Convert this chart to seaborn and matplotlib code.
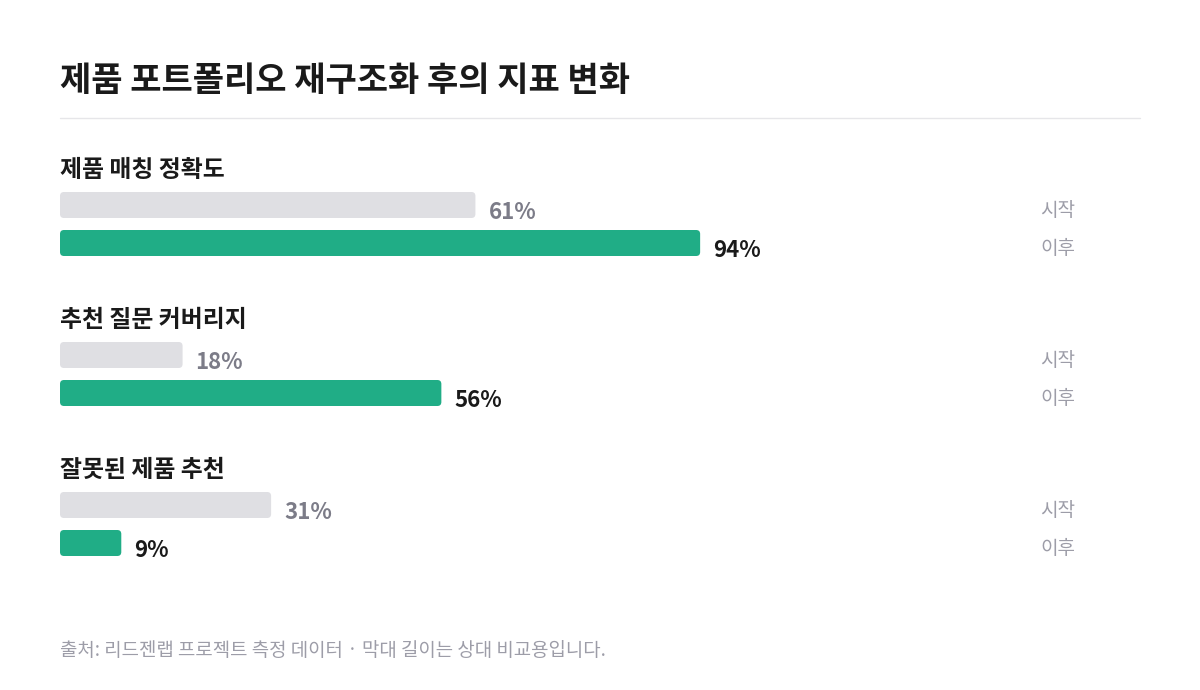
import matplotlib
matplotlib.use("Agg")
import matplotlib.pyplot as plt
import matplotlib.transforms as mtransforms
from matplotlib.patches import FancyBboxPatch
import seaborn as sns
import pandas as pd

# ---- data ----
title = "제품 포트폴리오 재구조화 후의 지표 변화"
metrics = ["제품 매칭 정확도", "추천 질문 커버리지", "잘못된 제품 추천"]
start_values = [61, 18, 31]
after_values = [94, 56, 9]
phases = ["시작", "이후"]
footer = "출처: 리드젠랩 프로젝트 측정 데이터 · 막대 길이는 상대 비교용입니다."

GREY = "#dfdfe3"
GREEN = "#20ad86"
DARK = "#1a1a1a"
MUTED = "#7c7c88"
LIGHT = "#9d9da8"

sns.set_theme(style="white")
plt.rcParams["font.family"] = ["Noto Sans CJK KR", "DejaVu Sans"]

W, H = 1200, 690
fig = plt.figure(figsize=(W / 100, H / 100), dpi=100)
fig.patch.set_facecolor("white")

def fx(px):
    return px / W

def fy(py):
    return 1 - py / H

# title + divider
fig.text(fx(60), fy(80), title, fontsize=24.5, fontweight="bold", color=DARK,
         ha="left", va="center")
fig.add_artist(plt.Line2D([fx(60), fx(1140)], [fy(118), fy(118)],
                          color="#e6e6e9", lw=1, transform=fig.transFigure))

x0_px, x100_px = 60, 741
bar_w = 26 / 38
for i, (m, s, a) in enumerate(zip(metrics, start_values, after_values)):
    off = 150 * i
    top, bot = 186 + off, 262 + off
    ax = fig.add_axes([fx(x0_px), fy(bot), fx(x100_px) - fx(x0_px), (bot - top) / H])
    df = pd.DataFrame({"phase": phases, "value": [s, a]})
    sns.barplot(data=df, x="value", y="phase", hue="phase", palette=[GREY, GREEN],
                orient="h", width=bar_w, errorbar=None, legend=False,
                saturation=1, ax=ax)
    ax.set_xlim(0, 100)
    ax.set_ylim(1.5, -0.5)
    ax.axis("off")
    # rounded bars
    px_per_x = (x100_px - x0_px) / 100
    px_per_y = 38
    for p in list(ax.patches):
        bx, by, bw, bh = p.get_x(), p.get_y(), p.get_width(), p.get_height()
        fc = p.get_facecolor()
        p.remove()
        rp = FancyBboxPatch((bx, by), bw, bh,
                            boxstyle="round,pad=0,rounding_size=%f" % (4 / px_per_x),
                            mutation_aspect=px_per_x / px_per_y,
                            facecolor=fc, edgecolor="none", linewidth=0)
        ax.add_patch(rp)
    # value labels
    for j, (v, col) in enumerate(zip([s, a], [MUTED, DARK])):
        ax.annotate(f"{v}%", xy=(v, j), xytext=(13 * 0.72, -7.5 * 0.72),
                    textcoords="offset points", ha="left", va="center",
                    fontsize=16, fontweight="bold", color=col)
    # phase labels on right
    tr = mtransforms.blended_transform_factory(fig.transFigure, ax.transData)
    for j, ph in enumerate(phases):
        ax.annotate(ph, xy=(fx(1040), j), xycoords=tr, xytext=(0, -5 * 0.72),
                    textcoords="offset points", ha="left", va="center",
                    fontsize=13.7, color=LIGHT)
    # group label
    fig.text(fx(60), fy(170 + off), m, fontsize=17.2, fontweight="bold", color=DARK,
             ha="left", va="center")

fig.text(fx(60), fy(650), footer, fontsize=13.6, color=LIGHT, ha="left", va="center")

fig.savefig("out.png", dpi=100, facecolor="white")
